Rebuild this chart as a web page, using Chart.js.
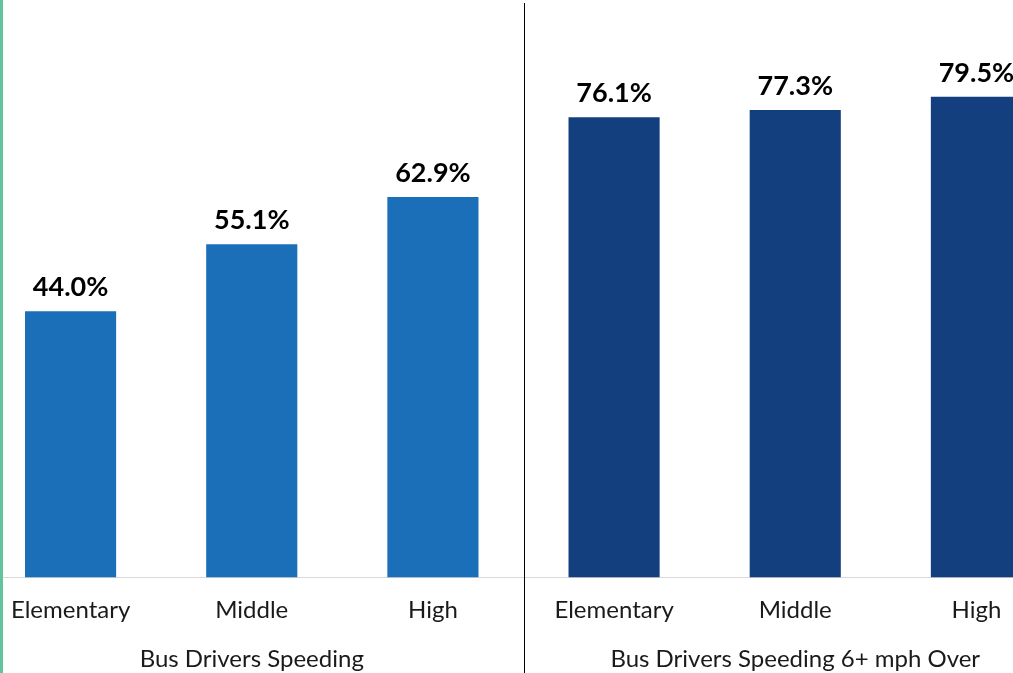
<!DOCTYPE html>
<html>
<head>
<meta charset="utf-8">
<script src="https://cdn.jsdelivr.net/npm/chart.js@4.4.0/dist/chart.umd.min.js"></script>
<style>
    html, body { margin: 0; padding: 0; background: #fff; overflow: hidden; width: 1013px; height: 673px; }
    #wrap { position: absolute; left: -20px; top: 3px; }
    #borde { position: absolute; left: 0; top: 0; width: 3px; height: 673px; background: #62c39d; }
</style>
</head>
<body>
<div id="wrap"><canvas id="grafico" width="1087" height="674"></canvas></div>
<div id="borde"></div>
<script>
var categorias = ["Elementary", "Middle", "High", "Elementary", "Middle", "High"];
var grupos = ["", "Bus Drivers Speeding", "", "", "Bus Drivers Speeding 6+ mph Over", ""];
var speeding = [44.0, 55.1, 62.9];
var speeding6 = [76.1, 77.3, 79.5];

var valores = speeding.concat(speeding6);
var colores = valores.map(function (v, i) {
    return i < speeding.length ? "#1b6eb8" : "#143f7e";
});

// etiquetas encima de las barras + linea que separa los grupos
var etiquetas = {
    id: "etiquetas",
    afterDatasetsDraw: function (chart) {
        var ctx = chart.ctx;
        var meta = chart.getDatasetMeta(0);
        ctx.save();
        ctx.font = "bold 27px Lato";
        ctx.fillStyle = "#000";
        ctx.textAlign = "center";
        ctx.textBaseline = "alphabetic";
        meta.data.forEach(function (barra, i) {
            ctx.fillText(valores[i].toFixed(1) + "%", barra.x, barra.y - 15);
        });
        var x = chart.scales.x;
        var xd = Math.round((x.getPixelForValue(2) + x.getPixelForValue(3)) / 2) + 0.5;
        ctx.strokeStyle = "#000";
        ctx.lineWidth = 1;
        ctx.beginPath();
        ctx.moveTo(xd, chart.chartArea.top);
        ctx.lineTo(xd, chart.height);
        ctx.stroke();
        ctx.restore();
    }
};

new Chart(document.getElementById("grafico"), {
    type: "bar",
    data: {
        labels: categorias,
        datasets: [{
            label: "Bus Drivers",
            data: valores,
            backgroundColor: colores,
            categoryPercentage: 1,
            barPercentage: 0.503
        }]
    },
    options: {
        responsive: false,
        animation: false,
        layout: { padding: 0 },
        plugins: {
            legend: { display: false },
            tooltip: { enabled: false }
        },
        scales: {
            y: { display: false, min: 0, max: 95 },
            x: {
                offset: true,
                grid: { display: false, drawTicks: false, tickLength: 0 },
                border: { color: "#d9d9d9", width: 1 },
                ticks: {
                    color: "#1a1a1a",
                    font: { family: "Lato", size: 24 },
                    padding: 18,
                    autoSkip: false,
                    maxRotation: 0
                }
            },
            x2: {
                type: "category",
                labels: grupos,
                position: "bottom",
                offset: true,
                grid: { display: false, drawTicks: false, tickLength: 0 },
                border: { display: false },
                ticks: {
                    color: "#1a1a1a",
                    font: { family: "Lato", size: 24 },
                    padding: 3,
                    autoSkip: false,
                    maxRotation: 0
                }
            }
        }
    },
    plugins: [etiquetas]
});
</script>
</body>
</html>
